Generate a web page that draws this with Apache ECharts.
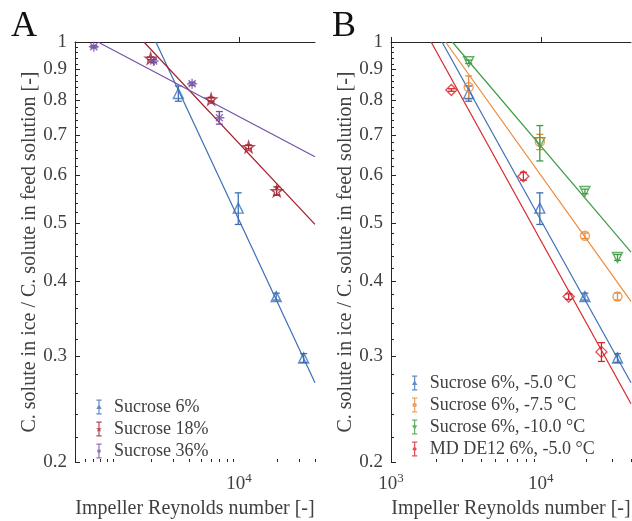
<!DOCTYPE html>
<html><head><meta charset="utf-8">
<script src="https://cdn.jsdelivr.net/npm/echarts@6/dist/echarts.min.js"></script>
<style>html,body{margin:0;padding:0;background:#fff}#c{width:632px;height:521px}</style>
</head><body><div id="c"></div>
<script>
// ---------------- data ----------------
// Panel A
const reA_s6  = [3300, 9850, 19700, 32500];
const cA_s6   = [0.821, 0.529, 0.377, 0.298];
const eA_s6   = [0.024, 0.032, 0.005, 0.005];
const reA_s18 = [1990, 6000, 11900, 19900];
const cA_s18  = [0.939, 0.803, 0.669, 0.565];
const eA_s18  = [0.005, 0.006, 0.005, 0.009];
const reA_s36 = [705, 2100, 4240, 6980];
const cA_s36  = [0.982, 0.930, 0.852, 0.748];
const eA_s36  = [0.004, 0.005, 0.005, 0.018];
// fitted power-law lines (end points [Re, C])
const fitA_s6  = [[2190, 1.0], [40000, 0.271]];
const fitA_s18 = [[1760, 1.0], [40000, 0.497]];
const fitA_s36 = [[760, 1.0], [40000, 0.644]];

// Panel B
const reB_suc = [3300, 9850, 19700, 32500];
const cB_m5   = [0.821, 0.529, 0.377, 0.298];
const eB_m5   = [0.024, 0.032, 0.005, 0.005];
const cB_m75  = [0.841, 0.682, 0.476, 0.377];
const eB_m75  = [0.037, 0.020, 0.005, 0.005];
const cB_m10  = [0.927, 0.680, 0.564, 0.438];
const eB_m10  = [0.006, 0.046, 0.005, 0.005];
const reB_md  = [2530, 7650, 15350, 25400];
const cB_md   = [0.832, 0.598, 0.377, 0.305];
const eB_md   = [0.004, 0.009, 0.004, 0.011];
const fitB_m5  = [[2190, 1.0], [40000, 0.271]];
const fitB_m75 = [[2313, 1.0], [40000, 0.370]];
const fitB_m10 = [[2567, 1.0], [40000, 0.447]];
const fitB_md  = [[1853, 1.0], [40000, 0.250]];

// names
const namesA = ['Sucrose 6%', 'Sucrose 18%', 'Sucrose 36%'];
const namesB = ['Sucrose 6%, -5.0 \u00B0C', 'Sucrose 6%, -7.5 \u00B0C', 'Sucrose 6%, -10.0 \u00B0C', 'MD DE12 6%, -5.0 \u00B0C'];

// axes ranges and tick labels
const xRangeA = [500, 40000];
const xRangeB = [1000, 40000];
const yRange  = [0.2, 1];
const xTickLabelsA = [10000];
const xTickLabelsB = [1000, 10000];
const yTickLabels  = [0.2, 0.3, 0.4, 0.5, 0.6, 0.7, 0.8, 0.9, 1];

// ---------------- styling ----------------
const FONT = 'Liberation Serif';
const TXT = '#404040';
const AX = '#262626';
const C = {
  blue: '#3b6fb6', dred: '#a31d2b', purple: '#7650a8',
  orange: '#ea8a3b', green: '#3f9b45', red: '#d8262a'
};
const STAR = 'path://M50,0 L61,35 L98,35 L68,57 L79,91 L50,70 L21,91 L32,57 L2,35 L39,35 Z';
const ASTER = 'path://M0,50 L100,50 M50,0 L50,100 M15,15 L85,85 M85,15 L15,85';
const IBEAM = 'M1.5,0H8.5V1.6H1.5Z M4.2,1.6H5.8V18.4H4.2Z M1.5,18.4H8.5V20H1.5Z ';
const LEG = {
  tri:  'path://' + IBEAM + 'M5,6L8.5,12.5H1.5Z',
  tdn:  'path://' + IBEAM + 'M1.5,7.5H8.5L5,14Z',
  circ: 'path://' + IBEAM + 'M5,7A3,3 0 1 1 4.99,7Z',
  dia:  'path://' + IBEAM + 'M5,6.2L8,10L5,13.8L2,10Z',
  star: 'path://' + IBEAM + 'M5,6L6,9H9L6.6,10.8L7.5,13.8L5,12L2.5,13.8L3.4,10.8L1,9H4Z',
  dot:  'path://' + IBEAM + 'M5,7.5A2.5,2.5 0 1 1 4.99,7.5Z'
};

// ---------------- helpers ----------------
const lg = Math.log10;
function pts(xs, ys) { return xs.map((x, i) => [x, ys[i]]); }
function errPts(xs, ys, es) { return xs.map((x, i) => [x, ys[i], es[i]]); }

function minorDecades(range, majors) {
  const out = [];
  for (let d = 100; d <= 100000; d *= 10) {
    for (let m = 1; m <= 9; m++) {
      const v = m * d;
      if (v >= range[0] && v <= range[1] && majors.indexOf(v) < 0) out.push(v);
    }
  }
  return out;
}
const yMinor = [];
for (let k = 11; k < 50; k++) if (k % 5 !== 0) yMinor.push(k / 50);

function scatter(name, xs, ys, color, symbol, size, gi, rotate) {
  return {
    type: 'scatter', name: name, xAxisIndex: gi * 3, yAxisIndex: gi * 3,
    data: pts(xs, ys), symbol: symbol, symbolSize: size, symbolRotate: rotate || 0,
    itemStyle: { color: 'rgba(0,0,0,0)', borderColor: color, borderWidth: 1.4 },
    z: 4
  };
}
function errbar(xs, ys, es, color, gi) {
  return {
    type: 'custom', name: 'err', xAxisIndex: gi * 3, yAxisIndex: gi * 3, silent: true, z: 3,
    data: errPts(xs, ys, es),
    renderItem: function (params, api) {
      const x = api.value(0), y = api.value(1), e = api.value(2);
      const t = api.coord([x, y + e]), b = api.coord([x, y - e]);
      const w = 3.5, st = { stroke: color, lineWidth: 1.3 };
      return { type: 'group', children: [
        { type: 'line', shape: { x1: t[0], y1: t[1], x2: b[0], y2: b[1] }, style: st },
        { type: 'line', shape: { x1: t[0] - w, y1: t[1], x2: t[0] + w, y2: t[1] }, style: st },
        { type: 'line', shape: { x1: b[0] - w, y1: b[1], x2: b[0] + w, y2: b[1] }, style: st }
      ]};
    }
  };
}
function fit(data, color, gi) {
  return {
    type: 'line', name: 'fit', xAxisIndex: gi * 3, yAxisIndex: gi * 3, data: data,
    symbol: 'none', showSymbol: false, silent: true, clip: true, z: 2,
    lineStyle: { color: color, width: 1.2 }
  };
}

function xAxes(gi, range, majors) {
  const lmin = lg(range[0]), lmax = lg(range[1]);
  return [
    { type: 'log', gridIndex: gi, min: range[0], max: range[1], position: 'bottom', show: false },
    { type: 'value', gridIndex: gi, min: lmin, max: lmax, position: 'bottom',
      axisLine: { show: true, lineStyle: { color: AX, width: 1 } },
      axisTick: { show: true, inside: true, length: 5, customValues: majors.map(lg), lineStyle: { color: AX } },
      axisLabel: { show: true, customValues: majors.map(lg), margin: 10,
        formatter: v => '{b|10}{s|' + Math.round(v) + '}',
        rich: {
          b: { fontFamily: FONT, fontSize: 19, color: TXT, verticalAlign: 'bottom', lineHeight: 22 },
          s: { fontFamily: FONT, fontSize: 13, color: TXT, verticalAlign: 'top', lineHeight: 14 }
        } },
      splitLine: { show: false },
      name: 'Impeller Reynolds number [-]', nameLocation: 'middle', nameGap: 33,
      nameTextStyle: { fontFamily: FONT, fontSize: 20, color: TXT } },
    { type: 'value', gridIndex: gi, min: lmin, max: lmax, position: 'bottom',
      axisLine: { show: false },
      axisTick: { show: true, inside: true, length: 3, customValues: minorDecades(range, majors).map(lg), lineStyle: { color: AX } },
      axisLabel: { show: false }, splitLine: { show: false } }
  ];
}
function yAxes(gi) {
  const lmin = lg(yRange[0]), lmax = lg(yRange[1]);
  return [
    { type: 'log', gridIndex: gi, min: yRange[0], max: yRange[1], position: 'left', show: false },
    { type: 'value', gridIndex: gi, min: lmin, max: lmax, position: 'left',
      axisLine: { show: true, lineStyle: { color: AX, width: 1 } },
      axisTick: { show: true, inside: true, length: 5, customValues: yTickLabels.map(lg), lineStyle: { color: AX } },
      axisLabel: { show: true, customValues: yTickLabels.map(lg), margin: 8,
        fontFamily: FONT, fontSize: 19, color: TXT,
        formatter: v => String(Math.round(Math.pow(10, v) * 10) / 10) },
      splitLine: { show: false },
      name: 'C. solute in ice / C. solute in feed solution [-]', nameLocation: 'middle', nameGap: 31,
      nameTextStyle: { fontFamily: FONT, fontSize: 20, color: TXT } },
    { type: 'value', gridIndex: gi, min: lmin, max: lmax, position: 'left',
      axisLine: { show: false },
      axisTick: { show: true, inside: true, length: 3, customValues: yMinor.map(lg), lineStyle: { color: AX } },
      axisLabel: { show: false }, splitLine: { show: false } }
  ];
}

function legend(left, top, names, icons, colors) {
  return {
    orient: 'vertical', left: left, top: top, itemGap: 2, itemWidth: 8, itemHeight: 15,
    selectedMode: false,
    textStyle: { fontFamily: FONT, fontSize: 18, color: TXT, lineHeight: 20, padding: [0, 0, 0, 6] },
    data: names.map((n, i) => ({ name: n, icon: icons[i], itemStyle: { color: colors[i], borderWidth: 0 } }))
  };
}

const option = {
  animation: false,
  backgroundColor: '#fff',
  title: [
    { text: 'A', left: 6, top: 4, textStyle: { fontFamily: FONT, fontSize: 36, fontWeight: 'normal', color: '#111' } },
    { text: 'B', left: 327, top: 4, textStyle: { fontFamily: FONT, fontSize: 36, fontWeight: 'normal', color: '#111' } }
  ],
  grid: [
    { left: 75, top: 42, width: 240, height: 420, outerBoundsMode: 'none', containLabel: false },
    { left: 391, top: 42, width: 240, height: 420, outerBoundsMode: 'none', containLabel: false }
  ],
  xAxis: xAxes(0, xRangeA, xTickLabelsA).concat(xAxes(1, xRangeB, xTickLabelsB)),
  yAxis: yAxes(0).concat(yAxes(1)),
  legend: [
    legend(91, 392, namesA, [LEG.tri, LEG.star, LEG.dot], [C.blue, C.dred, C.purple]),
    legend(407, 368, namesB, [LEG.tri, LEG.circ, LEG.tdn, LEG.dia], [C.blue, C.orange, C.green, C.red])
  ],
  series: [
    // Panel A
    fit(fitA_s6, C.blue, 0), fit(fitA_s18, C.dred, 0), fit(fitA_s36, C.purple, 0),
    errbar(reA_s6, cA_s6, eA_s6, C.blue, 0),
    errbar(reA_s18, cA_s18, eA_s18, C.dred, 0),
    errbar(reA_s36, cA_s36, eA_s36, C.purple, 0),
    scatter(namesA[0], reA_s6, cA_s6, C.blue, 'triangle', 10, 0),
    scatter(namesA[1], reA_s18, cA_s18, C.dred, STAR, 11, 0),
    scatter(namesA[2], reA_s36, cA_s36, C.purple, ASTER, 10, 0),
    // Panel B
    fit(fitB_m5, C.blue, 1), fit(fitB_m75, C.orange, 1), fit(fitB_m10, C.green, 1), fit(fitB_md, C.red, 1),
    errbar(reB_suc, cB_m5, eB_m5, C.blue, 1),
    errbar(reB_suc, cB_m75, eB_m75, C.orange, 1),
    errbar(reB_suc, cB_m10, eB_m10, C.green, 1),
    errbar(reB_md, cB_md, eB_md, C.red, 1),
    scatter(namesB[0], reB_suc, cB_m5, C.blue, 'triangle', 10, 1),
    scatter(namesB[1], reB_suc, cB_m75, C.orange, 'circle', 9, 1),
    scatter(namesB[2], reB_suc, cB_m10, C.green, 'triangle', 10, 1, 180),
    scatter(namesB[3], reB_md, cB_md, C.red, 'diamond', 11, 1)
  ]
};
// asterisk arms are strokes; give them the series colour too
option.series[8].itemStyle.color = C.purple;

const chart = echarts.init(document.getElementById('c'), null, { renderer: 'canvas' });
chart.setOption(option);
</script>
</body></html>
